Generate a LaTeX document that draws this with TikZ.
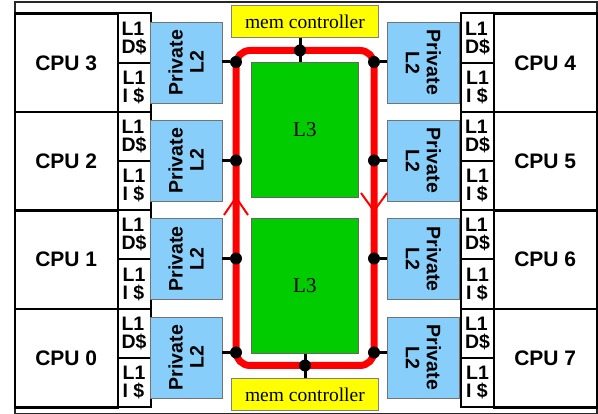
\documentclass[tikz,border=0pt]{standalone}
\usepackage{fontspec}
\setmainfont{Liberation Serif}
\newfontfamily\arial{Liberation Sans}
\definecolor{ltblue}{RGB}{135,206,250}
\definecolor{cgreen}{RGB}{0,204,0}
\definecolor{cyellow}{RGB}{255,255,0}
\begin{document}
\begin{tikzpicture}[x=1pt,y=-1pt,
  frame/.style={draw=black!85, line width=2pt, inner sep=0, anchor=north west, minimum width=581.5pt, minimum height=411.4pt},
  cpubox/.style={draw, line width=2.5pt, fill=white, inner sep=0, anchor=north west, minimum width=103pt, minimum height=98.4pt, font=\arial\bfseries\fontsize{21}{24}\selectfont},
  lonebox/.style={draw, line width=2pt, fill=white, inner sep=0, anchor=north west, minimum width=33pt, minimum height=49.2pt, align=left, font=\arial\bfseries\fontsize{19.5}{18}\selectfont},
  ltwo/.style={draw=black!55, line width=0.8pt, fill=ltblue, inner sep=0, minimum width=81pt, minimum height=72pt, align=center, font=\arial\bfseries\fontsize{19.5}{21}\selectfont},
  lthree/.style={draw=black!60, line width=0.8pt, fill=cgreen, inner sep=0, anchor=north west, minimum width=107pt, minimum height=135pt, font=\fontsize{21}{22}\selectfont},
  memc/.style={draw=black!50, line width=0.8pt, fill=cyellow, inner sep=0, anchor=north west, minimum width=147pt, minimum height=32pt, font=\fontsize{19.5}{20}\selectfont},
  dotn/.style={circle, fill=black, inner sep=0, minimum size=12pt},
  conn/.style={draw=black, line width=3pt},
  ringarrow/.style={draw=red, line width=2pt}
]
\useasboundingbox (0,0) rectangle (598,414);
\node[frame] (fr) at (14,1.3) {};
% left column
\node[cpubox] (c3) at (13.5,12.5) {CPU 3};
\node[cpubox] (c2) at (13.5,110.9) {CPU 2};
\node[cpubox] (c1) at (13.5,209.3) {CPU 1};
\node[cpubox] (c0) at (13.5,307.7) {CPU 0};
\node[lonebox] (d3) at (116.5,12.5) {L1\\D\$};
\node[lonebox] (i3) at (116.5,61.7) {L1\\I \$};
\node[lonebox] (d2) at (116.5,110.9) {L1\\D\$};
\node[lonebox] (i2) at (116.5,160.1) {L1\\I \$};
\node[lonebox] (d1) at (116.5,209.3) {L1\\D\$};
\node[lonebox] (i1) at (116.5,258.5) {L1\\I \$};
\node[lonebox] (d0) at (116.5,307.7) {L1\\D\$};
\node[lonebox] (i0) at (116.5,356.9) {L1\\I \$};
% right column
\node[cpubox] (c4) at (492.5,12.5) {CPU 4};
\node[cpubox] (c5) at (492.5,110.9) {CPU 5};
\node[cpubox] (c6) at (492.5,209.3) {CPU 6};
\node[cpubox] (c7) at (492.5,307.7) {CPU 7};
\node[lonebox] (d4) at (460,12.5) {L1\\D\$};
\node[lonebox] (i4) at (460,61.7) {L1\\I \$};
\node[lonebox] (d5) at (460,110.9) {L1\\D\$};
\node[lonebox] (i5) at (460,160.1) {L1\\I \$};
\node[lonebox] (d6) at (460,209.3) {L1\\D\$};
\node[lonebox] (i6) at (460,258.5) {L1\\I \$};
\node[lonebox] (d7) at (460,307.7) {L1\\D\$};
\node[lonebox] (i7) at (460,356.9) {L1\\I \$};
% private L2
\node[ltwo, rotate=90] (p3) at (186,62.5) {Private\\L2};
\node[ltwo, rotate=90] (p2) at (186,160.5) {Private\\L2};
\node[ltwo, rotate=90] (p1) at (186,259) {Private\\L2};
\node[ltwo, rotate=90] (p0) at (186,357.5) {Private\\L2};
\node[ltwo, rotate=-90] (p4) at (423.5,62.5) {Private\\L2};
\node[ltwo, rotate=-90] (p5) at (423.5,160.5) {Private\\L2};
\node[ltwo, rotate=-90] (p6) at (423.5,259) {Private\\L2};
\node[ltwo, rotate=-90] (p7) at (423.5,357.5) {Private\\L2};
% L3 and memory controllers
\node[lthree] (l3a) at (251,62) {L3};
\node[lthree] (l3b) at (251,218) {L3};
\node[memc] (mt) at (231,5) {mem controller};
\node[memc] (mb) at (231,378) {mem controller};
% ring
\node[draw=red, line width=7pt, rounded corners=14pt, inner sep=0, minimum width=138pt, minimum height=315pt] (ring) at (305,208) {};
\draw[ringarrow] (224,215) -- (236,197.5) -- (248,215);
\draw[ringarrow] (361,193) -- (374,211) -- (387,193);
% ring stops
\coordinate (tp) at (300,50.5);
\coordinate (bt) at (305,365.5);
\draw[conn] (tp |- mt.south) -- (tp |- l3a.north);
\draw[conn] (bt |- l3b.south) -- (bt |- mb.north);
\node[dotn] (s3) at (236,62) {};
\node[dotn] (s2) at (236,160.5) {};
\node[dotn] (s1) at (236,258.5) {};
\node[dotn] (s0) at (236,352.5) {};
\node[dotn] (s4) at (374,62) {};
\node[dotn] (s5) at (374,160.5) {};
\node[dotn] (s6) at (374,258.5) {};
\node[dotn] (s7) at (374,352.5) {};
\node[dotn] (st) at (tp) {};
\node[dotn] (sb) at (bt) {};
\draw[conn] (s3) -- (s3 -| p3.south);
\draw[conn] (s2) -- (s2 -| p2.south);
\draw[conn] (s1) -- (s1 -| p1.south);
\draw[conn] (s0) -- (s0 -| p0.south);
\draw[conn] (s4) -- (s4 -| p4.south);
\draw[conn] (s5) -- (s5 -| p5.south);
\draw[conn] (s6) -- (s6 -| p6.south);
\draw[conn] (s7) -- (s7 -| p7.south);
\end{tikzpicture}
\end{document}
